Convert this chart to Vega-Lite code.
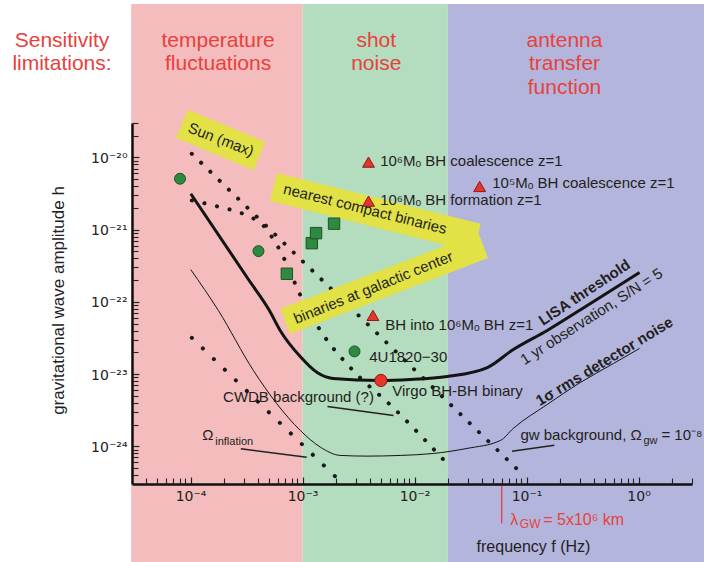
{
  "$schema": "https://vega.github.io/schema/vega-lite/v6.json",
  "width": 560,
  "height": 361,
  "autosize": {"type": "none"},
  "padding": {"left": 132, "top": 123, "right": 12, "bottom": 78},
  "background": "white",
  "config": {"view": {"stroke": null}, "font": "Liberation Sans"},
  "resolve": {"axis": {"x": "independent", "y": "independent"}},
  "datasets": {
    "bands": [
      {"name": "temperature", "f1": 2.95e-5, "f2": 0.001, "h1": 1e-26, "h2": 1.33e-18},
      {"name": "shot", "f1": 0.001, "f2": 0.0198, "h1": 1e-26, "h2": 1.33e-18},
      {"name": "antenna", "f1": 0.0198, "f2": 4, "h1": 1e-26, "h2": 1.33e-18}
    ],
    "lisa": [
      {"f": 1.005e-4, "h": 3.14e-21}, {"f": 3.29e-4, "h": 2.04e-22}, {"f": 5.06e-4, "h": 7.6e-23},
      {"f": 6.31e-4, "h": 4.02e-23}, {"f": 9.53e-4, "h": 1.75e-23}, {"f": 1.35e-3, "h": 1.05e-23},
      {"f": 1.87e-3, "h": 8.69e-24}, {"f": 4.93e-3, "h": 8.15e-24}, {"f": 9.16e-3, "h": 8.41e-24},
      {"f": 1.96e-2, "h": 9.27e-24}, {"f": 4.47e-2, "h": 1.23e-23}, {"f": 7.62e-2, "h": 2.19e-23},
      {"f": 0.153, "h": 4.02e-23}, {"f": 0.372, "h": 9.51e-23}, {"f": 1.02, "h": 2.55e-22}
    ],
    "noise": [
      {"f": 1.005e-4, "h": 2.79e-22}, {"f": 1.77e-4, "h": 7.6e-23}, {"f": 3.64e-4, "h": 1.12e-23},
      {"f": 5.89e-4, "h": 3.88e-24}, {"f": 9.53e-4, "h": 1.66e-24}, {"f": 1.44e-3, "h": 9.73e-25},
      {"f": 2.17e-3, "h": 7.46e-25}, {"f": 3.76e-3, "h": 7.3e-25}, {"f": 7.45e-3, "h": 7.46e-25},
      {"f": 1.47e-2, "h": 7.94e-25}, {"f": 2.94e-2, "h": 9.33e-25}, {"f": 5.83e-2, "h": 1.2e-24},
      {"f": 7.62e-2, "h": 1.77e-24}, {"f": 0.153, "h": 3.79e-24}, {"f": 0.303, "h": 7.66e-24},
      {"f": 0.597, "h": 1.4e-23}, {"f": 1.02, "h": 2.26e-23}
    ],
    "dotted": [
      {"line": "sun", "f": 1.026e-4, "h": 1.125e-20}, {"line": "sun", "f": 9.42e-2, "h": 3.94e-25},
      {"line": "binaries", "f": 1.026e-4, "h": 2.54e-21}, {"line": "binaries", "f": 1.75e-4, "h": 2.09e-21},
      {"line": "binaries", "f": 2.94e-4, "h": 1.66e-21}, {"line": "binaries", "f": 3.77e-4, "h": 1.38e-21},
      {"line": "binaries", "f": 4.63e-4, "h": 1.07e-21}, {"line": "binaries", "f": 5.43e-4, "h": 7.55e-22},
      {"line": "binaries", "f": 6.22e-4, "h": 5.32e-22}, {"line": "binaries", "f": 7.03e-4, "h": 3.63e-22},
      {"line": "binaries", "f": 8.65e-4, "h": 1.74e-22}, {"line": "binaries", "f": 9.66e-4, "h": 1.19e-22},
      {"line": "binaries", "f": 1.44e-3, "h": 4.02e-23}, {"line": "binaries", "f": 2.82e-3, "h": 1.12e-23},
      {"line": "binaries", "f": 6.28e-3, "h": 3.56e-24}, {"line": "binaries", "f": 1.95e-2, "h": 5.78e-25}
    ],
    "inflation": [
      {"f": 1.026e-4, "h": 3.18e-23}, {"f": 2.0e-3, "h": 3.7e-25}
    ],
    "markers": [
      {"type": "galactic", "f": 8.05e-5, "h": 5.07e-21},
      {"type": "galactic", "f": 4.04e-4, "h": 5.04e-22},
      {"type": "galactic", "f": 2.91e-3, "h": 2.06e-23},
      {"type": "compact", "f": 7.24e-4, "h": 2.45e-22},
      {"type": "compact", "f": 1.21e-3, "h": 6.5e-22},
      {"type": "compact", "f": 1.32e-3, "h": 8.95e-22},
      {"type": "compact", "f": 1.91e-3, "h": 1.21e-21},
      {"type": "massive", "f": 3.88e-3, "h": 8.61e-21},
      {"type": "massive", "f": 3.88e-3, "h": 2.48e-21},
      {"type": "massive", "f": 3.81e-2, "h": 3.96e-21},
      {"type": "massive", "f": 4.25e-3, "h": 6.49e-23},
      {"type": "virgo", "f": 5.01e-3, "h": 8.15e-24}
    ],
    "leaders": [
      {"f1": 2.81e-4, "h1": 9.23e-25, "f2": 1.09e-3, "h2": 7.06e-25},
      {"f1": 1.67e-3, "h1": 3.56e-24, "f2": 6.49e-3, "h2": 2.67e-24},
      {"f1": 7.41e-2, "h1": 8.55e-25, "f2": 0.177, "h2": 1.03e-24}
    ],
    "lambda": [{"f": 0.06, "h1": 3e-25, "h2": 8.53e-26}],
    "annotations": [
      {"text": "10⁶Mₒ BH coalescence z=1", "f": 4.93e-3, "h": 8.81e-21},
      {"text": "10⁵Mₒ BH coalescence z=1", "f": 4.94e-2, "h": 4.37e-21},
      {"text": "10⁶Mₒ BH formation z=1", "f": 4.93e-3, "h": 2.54e-21},
      {"text": "BH into 10⁶Mₒ BH z=1", "f": 5.47e-3, "h": 4.71e-23},
      {"text": "4U1820−30", "f": 3.94e-3, "h": 1.7e-23},
      {"text": "Virgo BH-BH binary", "f": 6.32e-3, "h": 5.74e-24},
      {"text": "CWDB background (?)", "f": 1.95e-4, "h": 4.74e-24},
      {"text": "Ω", "f": 1.27e-4, "h": 1.41e-24},
      {"text": "gw background, Ω", "f": 8.81e-2, "h": 1.41e-24},
      {"text": "= 10⁻⁸", "f": 1.6, "h": 1.41e-24}
    ],
    "subscripts": [
      {"text": "inflation", "f": 1.66e-4, "h": 1.16e-24},
      {"text": "gw", "f": 1.107, "h": 1.2e-24}
    ],
    "lambdalabel": [
      {"text": "λ", "f": 7.16e-2, "h": 9.38e-26},
      {"text": "= 5x10⁶ km", "f": 0.141, "h": 9.38e-26}
    ],
    "lambdasub": [{"text": "GW", "f": 8.71e-2, "h": 8.26e-26}],
    "headers": [
      {"text": "Sensitivity", "f": 7.11e-6, "h": 4.05e-19},
      {"text": "limitations:", "f": 7.11e-6, "h": 1.94e-19},
      {"text": "temperature", "f": 1.76e-4, "h": 4.05e-19},
      {"text": "fluctuations", "f": 1.76e-4, "h": 1.94e-19},
      {"text": "shot", "f": 4.55e-3, "h": 4.05e-19},
      {"text": "noise", "f": 4.55e-3, "h": 1.94e-19},
      {"text": "antenna", "f": 0.218, "h": 4.05e-19},
      {"text": "transfer", "f": 0.218, "h": 1.94e-19},
      {"text": "function", "f": 0.218, "h": 9.04e-20}
    ]
  },
  "layer": [
    {
      "data": {"name": "bands"},
      "mark": {"type": "rect"},
      "encoding": {
        "x": {"field": "f1", "type": "quantitative",
          "scale": {"type": "log", "domain": [3e-5, 3], "nice": false},
          "axis": {"orient": "bottom", "values": [0.0001, 0.001, 0.01, 0.1, 1],
            "labelExpr": "round(log(datum.value)/LN10) == 0 ? '10⁰' : '10⁻' + ['⁰','¹','²','³','⁴','⁵'][-round(log(datum.value)/LN10)]",
            "tickSize": -7, "tickColor": "#222", "tickWidth": 1.2,
            "domainColor": "#111", "domainWidth": 2.5, "labelPadding": 12,
            "labelFont": "DejaVu Sans", "labelFontSize": 14, "labelColor": "#222", "labelFlush": false, "labelOverlap": false,
            "grid": false, "title": "frequency f (Hz)", "titleFontSize": 16, "titleFontWeight": "normal",
            "titleColor": "#222", "titleX": 401, "titleY": 62, "titleBaseline": "middle", "titleAlign": "center",
            "zindex": 1}},
        "x2": {"field": "f2"},
        "y": {"field": "h1", "type": "quantitative",
          "scale": {"type": "log", "domain": [3e-25, 3e-20], "nice": false},
          "axis": {"orient": "left", "values": [1e-24, 1e-23, 1e-22, 1e-21, 1e-20],
            "labelExpr": "'10⁻²' + ['⁰','¹','²','³','⁴'][-round(log(datum.value)/LN10)-20]",
            "tickSize": -7, "tickColor": "#222", "tickWidth": 1.2,
            "domainColor": "#111", "domainWidth": 2.5, "labelPadding": 12, "labelOffset": 1,
            "labelFont": "DejaVu Sans", "labelFontSize": 14, "labelColor": "#222", "labelFlush": false, "labelOverlap": false,
            "grid": false, "title": "gravitational wave amplitude h", "titleFontSize": 17, "titleFontWeight": "normal",
            "titleColor": "#222", "titleX": -74, "titleY": 177, "titleAngle": -90, "titleBaseline": "middle", "titleAlign": "center",
            "zindex": 1}},
        "y2": {"field": "h2"},
        "color": {"field": "name", "type": "nominal",
          "scale": {"domain": ["temperature", "shot", "antenna"], "range": ["#f4bcbc", "#b4dcbf", "#b3b5dc"]},
          "legend": null}
      }
    },
    {
      "data": {"name": "leaders"},
      "mark": {"type": "rule", "color": "#222", "strokeWidth": 1.5},
      "encoding": {
        "x": {"field": "f1", "type": "quantitative",
          "axis": {"orient": "bottom", "labels": false, "domain": false, "grid": false, "title": null,
            "tickSize": -6, "tickColor": "#222", "tickWidth": 1.1, "zindex": 1,
            "values": [4e-5, 5e-5, 6e-5, 7e-5, 8e-5, 9e-5,
              2e-4, 3e-4, 4e-4, 5e-4, 6e-4, 7e-4, 8e-4, 9e-4,
              2e-3, 3e-3, 4e-3, 5e-3, 6e-3, 7e-3, 8e-3, 9e-3,
              2e-2, 3e-2, 4e-2, 5e-2, 6e-2, 7e-2, 8e-2, 9e-2,
              0.2, 0.3, 0.4, 0.5, 0.6, 0.7, 0.8, 0.9, 2, 3]}},
        "x2": {"field": "f2"},
        "y": {"field": "h1", "type": "quantitative",
          "axis": {"orient": "left", "labels": false, "domain": false, "grid": false, "title": null,
            "tickSize": -6, "tickColor": "#222", "tickWidth": 1.1, "zindex": 1,
            "values": [4e-25, 5e-25, 6e-25, 7e-25, 8e-25, 9e-25,
              2e-24, 3e-24, 4e-24, 5e-24, 6e-24, 7e-24, 8e-24, 9e-24,
              2e-23, 3e-23, 4e-23, 5e-23, 6e-23, 7e-23, 8e-23, 9e-23,
              2e-22, 3e-22, 4e-22, 5e-22, 6e-22, 7e-22, 8e-22, 9e-22,
              2e-21, 3e-21, 4e-21, 5e-21, 6e-21, 7e-21, 8e-21, 9e-21,
              2e-20, 3e-20]}},
        "y2": {"field": "h2"}
      }
    },
    {
      "data": {"name": "lambda"},
      "mark": {"type": "rule", "color": "#e8413c", "strokeWidth": 1.3},
      "encoding": {
        "x": {"field": "f", "type": "quantitative", "axis": null},
        "y": {"field": "h1", "type": "quantitative", "axis": null},
        "y2": {"field": "h2"}
      }
    },
    {
      "data": {"name": "dotted"},
      "mark": {"type": "line", "color": "#1a1a1a", "strokeWidth": 4, "strokeCap": "round", "strokeDash": [0.1, 12.8], "interpolate": "monotone"},
      "encoding": {
        "x": {"field": "f", "type": "quantitative", "axis": null},
        "y": {"field": "h", "type": "quantitative", "axis": null},
        "detail": {"field": "line", "type": "nominal"}
      }
    },
    {
      "data": {"name": "inflation"},
      "mark": {"type": "line", "color": "#1a1a1a", "strokeWidth": 4, "strokeCap": "round", "strokeDash": [0.1, 15.2]},
      "encoding": {
        "x": {"field": "f", "type": "quantitative", "axis": null},
        "y": {"field": "h", "type": "quantitative", "axis": null}
      }
    },
    {
      "data": {"name": "lisa"},
      "mark": {"type": "line", "color": "#141414", "strokeWidth": 3, "interpolate": "monotone"},
      "encoding": {
        "x": {"field": "f", "type": "quantitative", "axis": null},
        "y": {"field": "h", "type": "quantitative", "axis": null}
      }
    },
    {
      "data": {"name": "noise"},
      "mark": {"type": "line", "color": "#141414", "strokeWidth": 1, "interpolate": "monotone"},
      "encoding": {
        "x": {"field": "f", "type": "quantitative", "axis": null},
        "y": {"field": "h", "type": "quantitative", "axis": null}
      }
    },
    {
      "data": {"values": [{"label": "Sun (max)", "f": 1.86e-4, "h": 1.75e-20}]},
      "mark": {"type": "point", "filled": true, "opacity": 1, "fillOpacity": 1, "color": "#e2e246", "strokeWidth": 0,
        "shape": "M-1,-0.363L1,-0.363L1,0.363L-1,0.363Z", "size": 7056, "angle": 22.7},
      "encoding": {
        "x": {"field": "f", "type": "quantitative", "axis": null},
        "y": {"field": "h", "type": "quantitative", "axis": null}
      }
    },
    {
      "data": {"values": [{"label": "nearest compact binaries", "f": 4.46e-3, "h": 1.73e-21}]},
      "mark": {"type": "point", "filled": true, "opacity": 1, "fillOpacity": 1, "color": "#e2e246", "strokeWidth": 0,
        "shape": "M-1,-0.138L1,-0.138L1,0.138L-1,0.138Z", "size": 44100, "angle": 14},
      "encoding": {
        "x": {"field": "f", "type": "quantitative", "axis": null},
        "y": {"field": "h", "type": "quantitative", "axis": null}
      }
    },
    {
      "data": {"values": [{"label": "binaries at galactic center", "f": 5.36e-3, "h": 1.8e-22}]},
      "mark": {"type": "point", "filled": true, "opacity": 1, "fillOpacity": 1, "color": "#e2e246", "strokeWidth": 0,
        "shape": "M-1,-0.127L1,-0.127L1,0.127L-1,0.127Z", "size": 44944, "angle": 339},
      "encoding": {
        "x": {"field": "f", "type": "quantitative", "axis": null},
        "y": {"field": "h", "type": "quantitative", "axis": null}
      }
    },
    {
      "data": {"name": "markers"},
      "mark": {"type": "point", "filled": true, "opacity": 1, "fillOpacity": 1, "strokeOpacity": 1, "strokeWidth": 1},
      "encoding": {
        "x": {"field": "f", "type": "quantitative", "axis": null},
        "y": {"field": "h", "type": "quantitative", "axis": null},
        "shape": {"field": "type", "type": "nominal", "legend": null,
          "scale": {"domain": ["galactic", "compact", "massive", "virgo"], "range": ["circle", "square", "triangle-up", "circle"]}},
        "fill": {"field": "type", "type": "nominal", "legend": null,
          "scale": {"domain": ["galactic", "compact", "massive", "virgo"], "range": ["#2e8a3e", "#2e8a3e", "#e8352b", "#e8352b"]}},
        "stroke": {"field": "type", "type": "nominal", "legend": null,
          "scale": {"domain": ["galactic", "compact", "massive", "virgo"], "range": ["#1e5128", "#1e5128", "#8a1c14", "#8a1c14"]}},
        "size": {"field": "type", "type": "nominal", "legend": null,
          "scale": {"domain": ["galactic", "compact", "massive", "virgo"], "range": [120, 150, 175, 120]}}
      }
    },
    {
      "data": {"name": "annotations"},
      "mark": {"type": "text", "align": "left", "baseline": "middle", "fontSize": 15, "color": "#231f20"},
      "encoding": {
        "x": {"field": "f", "type": "quantitative", "axis": null},
        "y": {"field": "h", "type": "quantitative", "axis": null},
        "text": {"field": "text", "type": "nominal"}
      }
    },
    {
      "data": {"name": "subscripts"},
      "mark": {"type": "text", "align": "left", "baseline": "middle", "fontSize": 11, "color": "#231f20"},
      "encoding": {
        "x": {"field": "f", "type": "quantitative", "axis": null},
        "y": {"field": "h", "type": "quantitative", "axis": null},
        "text": {"field": "text", "type": "nominal"}
      }
    },
    {
      "data": {"name": "lambdalabel"},
      "mark": {"type": "text", "align": "left", "baseline": "middle", "fontSize": 16, "color": "#e8413c"},
      "encoding": {
        "x": {"field": "f", "type": "quantitative", "axis": null},
        "y": {"field": "h", "type": "quantitative", "axis": null},
        "text": {"field": "text", "type": "nominal"}
      }
    },
    {
      "data": {"name": "lambdasub"},
      "mark": {"type": "text", "align": "left", "baseline": "middle", "fontSize": 12, "color": "#e8413c"},
      "encoding": {
        "x": {"field": "f", "type": "quantitative", "axis": null},
        "y": {"field": "h", "type": "quantitative", "axis": null},
        "text": {"field": "text", "type": "nominal"}
      }
    },
    {
      "data": {"name": "headers"},
      "mark": {"type": "text", "align": "center", "baseline": "middle", "fontSize": 21, "color": "#e8413c"},
      "encoding": {
        "x": {"field": "f", "type": "quantitative", "axis": null},
        "y": {"field": "h", "type": "quantitative", "axis": null},
        "text": {"field": "text", "type": "nominal"}
      }
    },
    {
      "data": {"values": [{"text": "Sun (max)", "f": 1.87e-4, "h": 1.77e-20}]},
      "mark": {"type": "text", "align": "center", "baseline": "middle", "fontSize": 15, "color": "#231f20", "angle": 21},
      "encoding": {
        "x": {"field": "f", "type": "quantitative", "axis": null},
        "y": {"field": "h", "type": "quantitative", "axis": null},
        "text": {"field": "text", "type": "nominal"}
      }
    },
    {
      "data": {"values": [{"text": "nearest compact binaries", "f": 3.62e-3, "h": 1.94e-21}]},
      "mark": {"type": "text", "align": "center", "baseline": "middle", "fontSize": 15, "color": "#231f20", "angle": 14},
      "encoding": {
        "x": {"field": "f", "type": "quantitative", "axis": null},
        "y": {"field": "h", "type": "quantitative", "axis": null},
        "text": {"field": "text", "type": "nominal"}
      }
    },
    {
      "data": {"values": [{"text": "binaries at galactic center", "f": 4.28e-3, "h": 1.58e-22}]},
      "mark": {"type": "text", "align": "center", "baseline": "middle", "fontSize": 15, "color": "#231f20", "angle": 338},
      "encoding": {
        "x": {"field": "f", "type": "quantitative", "axis": null},
        "y": {"field": "h", "type": "quantitative", "axis": null},
        "text": {"field": "text", "type": "nominal"}
      }
    },
    {
      "data": {"values": [{"text": "LISA threshold", "f": 0.328, "h": 1.35e-22}]},
      "mark": {"type": "text", "align": "center", "baseline": "middle", "fontSize": 15, "fontWeight": "bold", "color": "#231f20", "angle": 326.3},
      "encoding": {
        "x": {"field": "f", "type": "quantitative", "axis": null},
        "y": {"field": "h", "type": "quantitative", "axis": null},
        "text": {"field": "text", "type": "nominal"}
      }
    },
    {
      "data": {"values": [{"text": "1 yr observation, S/N = 5", "f": 0.379, "h": 6.28e-23}]},
      "mark": {"type": "text", "align": "center", "baseline": "middle", "fontSize": 15, "color": "#231f20", "angle": 327.3},
      "encoding": {
        "x": {"field": "f", "type": "quantitative", "axis": null},
        "y": {"field": "h", "type": "quantitative", "axis": null},
        "text": {"field": "text", "type": "nominal"}
      }
    },
    {
      "data": {"values": [{"text": "1σ rms detector noise", "f": 0.495, "h": 1.5e-23}]},
      "mark": {"type": "text", "align": "center", "baseline": "middle", "fontSize": 15, "fontWeight": "bold", "color": "#231f20", "angle": 328.8},
      "encoding": {
        "x": {"field": "f", "type": "quantitative", "axis": null},
        "y": {"field": "h", "type": "quantitative", "axis": null},
        "text": {"field": "text", "type": "nominal"}
      }
    }
  ]
}
